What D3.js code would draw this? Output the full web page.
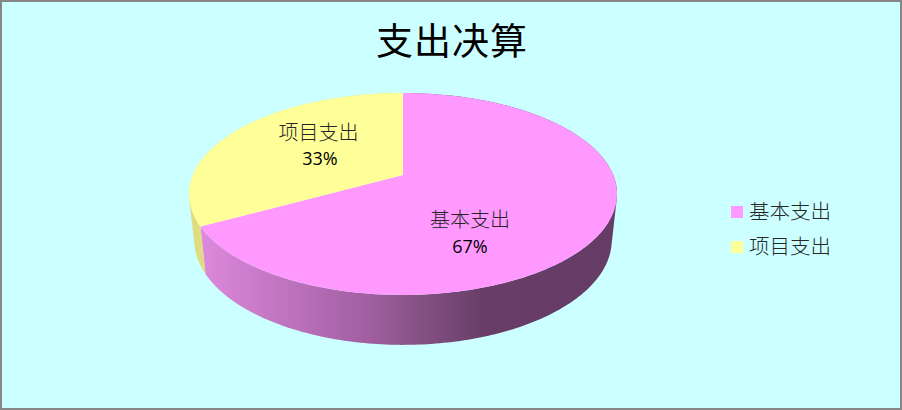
<!DOCTYPE html>
<html>
<head>
<meta charset="utf-8">
<script src="https://cdn.jsdelivr.net/npm/d3@7"></script>
<style>
  html, body { margin: 0; padding: 0; background: #fff; }
  svg { display: block; }
  text { font-family: "Noto Sans CJK SC", sans-serif; fill: #000; }
  .thin { font-weight: 300; fill: #262626; }
</style>
</head>
<body>
<svg width="902" height="410"></svg>
<script>
const title = '支出决算';
const categories = ['基本支出', '项目支出'];
const values = [67, 33];
const topColors = ['#ff99ff', '#ffff99'];
const wallStops = [
  [0.01, '#dc88dc'], [0.17, '#c477c4'], [0.41, '#a05ea0'], [0.5, '#8a5589'], [0.68, '#683e68'], [1, '#653c65']
];
const yellowWall = '#e0dc82';

const svg = d3.select('svg');
const width = 902, height = 410;

svg.append('rect')
  .attr('x', 1).attr('y', 1)
  .attr('width', width - 2).attr('height', height - 2)
  .attr('fill', '#ccffff')
  .attr('stroke', '#868686')
  .attr('stroke-width', 2);

svg.append('text')
  .attr('x', 452).attr('y', 55)
  .attr('text-anchor', 'middle')
  .attr('font-size', 37)
  .attr('letter-spacing', 1)
  .text(title);

// perspective of the disc: u goes right, v goes towards the viewer
const tilt = 0.188;
const topX = d3.scaleLinear().domain([-1, 1]).range([403 - 210.2, 403 + 210.2]);
const topY = d3.scaleLinear().domain([-1, 1]).range([175 - 97.4, 175 + 97.4]);
const bottomX = d3.scaleLinear().domain([-1, 1]).range([403 - 205, 403 + 205]);
const bottomY = d3.scaleLinear().domain([-1, 1]).range([220.5 - 101, 220.5 + 101]);

function project(angle, sx, sy) {
  let u = Math.sin(angle);
  let v = -Math.cos(angle);
  let k = 1 - tilt * v;
  return [sx(u / k), sy(v / k)];
}

function ring(a0, a1, sx, sy) {
  let n = Math.max(2, Math.ceil(Math.abs(a1 - a0) * 60));
  return d3.range(n + 1).map(i => project(a0 + (a1 - a0) * i / n, sx, sy));
}

const slices = d3.pie().sort(null).value(d => d)(values);
const line = d3.line();

const grad = svg.append('defs').append('linearGradient')
  .attr('id', 'wall')
  .attr('gradientUnits', 'userSpaceOnUse')
  .attr('x1', 200).attr('x2', 617).attr('y1', 0).attr('y2', 0);
wallStops.forEach(s => {
  grad.append('stop').attr('offset', s[0]).attr('stop-color', s[1]);
});

// side wall is a union of small quads, all wound the same way
function wallPath(s) {
  let upper = ring(s.startAngle, s.endAngle, topX, topY);
  let lower = ring(s.startAngle, s.endAngle, bottomX, bottomY);
  let d = '';
  for (let i = 0; i < upper.length - 1; i++) {
    let quad = [upper[i], upper[i + 1], lower[i + 1], lower[i]];
    if (d3.polygonArea(quad) < 0) {
      quad.reverse();
    }
    d += line(quad) + 'Z';
  }
  return d;
}

// side walls first, top faces go over them
slices.forEach((s, i) => {
  svg.append('path')
    .attr('d', wallPath(s))
    .attr('fill', i === 0 ? 'url(#wall)' : yellowWall);
});

slices.forEach((s, i) => {
  let pts = ring(s.startAngle, s.endAngle, topX, topY);
  pts.push([topX(0), topY(0)]);
  svg.append('path')
    .attr('d', line(pts) + 'Z')
    .attr('fill', topColors[i]);
});

// data labels
const labelPos = [[470, 227], [318.5, 140]];
const percentPos = [[470, 253], [320, 165]];
slices.forEach((s, i) => {
  svg.append('text')
    .attr('class', 'thin')
    .attr('x', labelPos[i][0]).attr('y', labelPos[i][1])
    .attr('text-anchor', 'middle')
    .attr('font-size', 20)
    .text(categories[i]);
  svg.append('text')
    .attr('x', percentPos[i][0]).attr('y', percentPos[i][1])
    .attr('text-anchor', 'middle')
    .attr('font-size', 18)
    .style('font-family', '"Open Sans", sans-serif')
    .text(d3.format('.0%')(values[i] / d3.sum(values)));
});

// legend
const legendY = d3.scalePoint().domain(categories).range([211, 246]);
categories.forEach((c, i) => {
  svg.append('rect')
    .attr('x', 731).attr('y', legendY(c) - 5)
    .attr('width', 12).attr('height', 12)
    .attr('fill', topColors[i]);
  svg.append('text')
    .attr('class', 'thin')
    .attr('x', 749).attr('y', legendY(c) + 8)
    .attr('font-size', 20.5)
    .text(c);
});
</script>
</body>
</html>
